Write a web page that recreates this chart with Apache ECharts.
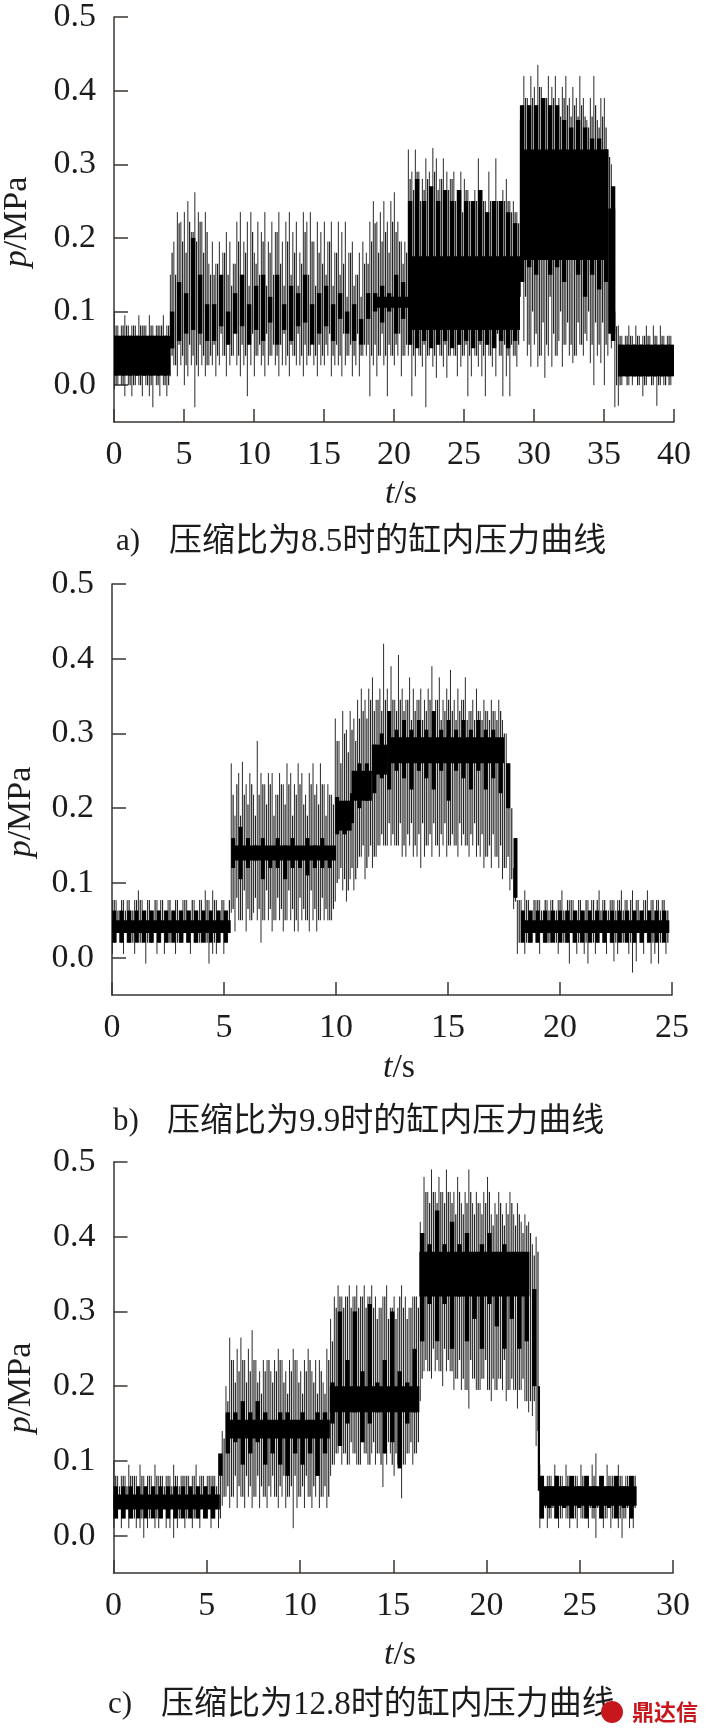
<!DOCTYPE html>
<html><head><meta charset="utf-8">
<style>html,body{margin:0;padding:0;background:#fff}#c{width:706px;height:1734px}</style>
<script src="https://cdn.jsdelivr.net/npm/echarts@6/dist/echarts.min.js"></script>
</head><body><div id="c"></div>
<script>
const yTickValues=[0,0.1,0.2,0.3,0.4,0.5];
const captionA='压缩比为8.5时的缸内压力曲线';
const captionB='压缩比为9.9时的缸内压力曲线';
const captionC='压缩比为12.8时的缸内压力曲线';
const durationA=40, durationB=24.88, durationC=28.05;

// outer swing of the trace (peaks / troughs)
const hiA=[.10,.081,.081,.095,.081,.081,.081,.095,.081,.081,.095,.081,.081,.081,.095,.081,
.15,.195,.235,.222,.235,.25,.208,.262,.235,.222,.235,.165,
.195,.165,.195,.18,.208,.195,.165,.222,.235,.195,.222,.235,.18,.222,.208,.235,.195,.222,.208,.235,.195,.222,.235,.208,.222,.18,.235,.222,.235,.195,.222,.208,.222,.195,.222,.18,.222,.208,.222,.18,.195,.15,.18,.195,
.18,.222,.25,.222,.235,.25,.222,.25,.262,.222,.195,.195,
.32,.29,.32,.29,.28,.308,.29,.322,.308,.28,.308,.29,.28,.29,.265,.29,.28,.265,.25,.265,.308,.265,.25,.29,.25,.308,.25,.265,.28,.25,.25,.235,
.36,.42,.39,.42,.405,.435,.405,.39,.42,.405,.42,.39,.405,.42,.39,.405,.39,.42,.39,.36,.39,.42,.36,.39,.39,.32,
.30,.10,
.081,.067,.067,.081,.067,.081,.067,.067,.081,.067,.081,.067,.081,.067,.067,.067];
const loA=[-.005,0,0,-.015,0,-.015,0,0,-.015,0,-.015,-.03,0,-.015,0,-.015,
.012,.027,.012,.027,0,.012,.027,-.03,.012,.027,.012,.027,
.027,.012,.027,.04,.012,.027,.04,.027,.012,.027,-.015,.027,.012,.04,.027,.012,.027,.04,.027,.012,.027,.027,.012,.04,.027,.027,.012,.027,.04,.027,.012,.027,.027,.04,.012,.027,.027,.012,.027,.04,.012,.027,.012,.04,
.04,-.015,.027,.012,.04,.027,-.015,.04,.027,.04,.012,.04,
.04,-.015,.012,.04,.025,-.03,.04,.025,.01,.04,.025,.01,.04,.04,.012,.025,.04,-.015,.012,.04,.025,.012,-.015,.04,.025,.012,.04,-.015,.012,-.015,.04,.025,
.12,.06,.04,.025,.055,.025,.04,.01,.04,.025,.04,.06,.025,.055,.04,.03,.04,.055,.04,.06,.03,0,.04,.03,0,.04,
.05,-.03,
-.028,0,.012,0,0,.012,0,-.015,0,.012,0,-.028,0,0,.012,0];

const hiB=[.077,.077,.063,.077,.077,.063,.077,.09,.077,.063,.077,.063,.077,.077,.063,.077,.063,.077,.063,.077,.077,.063,.077,.063,.077,.09,.077,.09,.077,.063,.077,.063,
.26,.19,.247,.262,.232,.247,.218,.29,.247,.232,.247,.247,.218,.247,.232,.26,.247,.232,.26,.247,.218,.247,.26,.232,.26,.232,.232,.218,
.32,.29,.33,.305,.33,.32,
.345,.36,.345,.36,.375,.345,
.36,.42,.36,.39,.345,.405,.36,.345,.375,.36,.345,.36,.345,.36,.39,.345,.375,.345,.36,.385,.345,.36,.345,.375,.33,.345,.36,.33,.345,.33,.345,.33,.345,
.318,.3,.26,.12,
.077,.077,.09,.077,.063,.077,.077,.063,.077,.077,.063,.077,.09,.063,.077,.077,.063,.077,.063,.077,.077,.063,.09,.077,.063,.077,.077,.077,.09,.077,.063,.09,.077,.063,.077,.09,.077,.063,.077,.077,.063];
const loB=[.005,.02,.02,.005,.02,.02,.005,.02,.02,-.008,.02,.02,.005,.02,.005,.02,.02,.005,.02,.02,.02,.005,.02,.02,.02,.02,-.008,.005,.005,.02,.005,.02,
.06,.035,.05,.05,.035,.05,.06,.05,.02,.05,.05,.035,.05,.05,.035,.05,.05,.035,.035,.05,.05,.035,.05,.035,.05,.05,.05,.05,
.075,.105,.09,.075,.105,.09,
.12,.135,.105,.135,.12,.135,
.15,.15,.15,.15,.15,.15,.135,.135,.15,.135,.135,.12,.135,.15,.135,.15,.135,.15,.135,.15,.15,.135,.15,.15,.135,.15,.135,.135,.12,.135,.12,.135,.12,
.105,.12,.09,.065,
.005,.02,.005,.02,.02,.02,.005,.02,.02,.02,.02,.005,.02,.02,-.008,.02,.005,.02,.005,-.008,.02,.005,.02,.02,.005,.02,-.005,.005,.02,.02,.005,-.02,-.005,.02,.005,.02,-.008,.005,-.008,.02,.005];

const hiC=[.1,.08,.08,.08,.095,.08,.08,.095,.08,.08,.08,.095,.08,.08,.08,.08,.095,.08,.08,.08,.08,.08,.095,.08,.08,.08,.08,.08,.08,
.14,.2,.265,.235,.25,.265,.235,.25,.275,.235,.22,.235,.235,.22,.235,.25,.235,.22,.235,.25,.235,.22,.235,.25,.22,.235,.235,.205,.25,
.29,.32,.335,.32,.32,.335,.32,.335,.32,.335,.32,.335,.32,.305,.32,.335,.305,.32,.305,.335,.32,.305,.32,.32,
.42,.48,.46,.49,.46,.48,.46,.49,.46,.46,.48,.445,.46,.49,.445,.46,.445,.46,.48,.43,.445,.46,.43,.445,.46,.43,.445,.42,.43,.42,
.39,.4,
.095,.08,.08,.08,.095,.08,.08,.095,.08,.08,.08,.095,.08,.08,.095,.11,.08,.08,.095,.08,.08,.095,.08,.08,.08,.08];
const loC=[.01,.023,.01,.023,.01,.023,.01,.01,-.003,.01,.023,.01,.01,.023,.01,.01,-.003,.01,.023,.01,.023,.01,.023,.01,.023,.023,.01,.023,.01,
.04,.052,.037,.052,.037,.052,.037,.052,.037,.052,.037,.052,.037,.052,.052,.037,.052,.037,.052,.01,.037,.052,.037,.052,.037,.052,.037,.052,.037,
.08,.095,.11,.095,.11,.095,.11,.095,.095,.11,.095,.11,.095,.11,.065,.095,.11,.08,.095,.05,.095,.11,.095,.11,
.18,.22,.22,.21,.22,.22,.2,.22,.22,.195,.21,.195,.195,.17,.21,.195,.195,.21,.195,.18,.195,.21,.195,.18,.195,.195,.17,.195,.18,.165,
.16,.12,
.01,.023,.01,.023,.023,.01,.023,.023,.01,.023,.01,.023,.023,.01,.023,-.003,.023,.01,.023,.01,.023,.01,-.003,.023,.01,.01];

// middle swing of the trace (the grey body)
const midHiA=[.081,.067,.081,.081,.067,.081,.067,.081,.081,.067,.081,.067,.081,.081,.067,.081,
.18,.15,.22,.195,.18,.222,.208,.195,.222,.18,.208,.15,
.15,.165,.12,.18,.15,.135,.165,.195,.15,.18,.135,.208,.165,.15,.195,.135,.18,.15,.208,.165,.135,.195,.15,.18,.135,.165,.208,.15,.195,.135,.18,.165,.15,.195,.135,.18,.15,.165,.12,.18,.135,.15,.12,.165,
.165,.195,.22,.18,.195,.208,.18,.222,.208,.195,.165,.18,
.28,.265,.29,.25,.265,.28,.25,.29,.265,.28,.25,.265,.28,.25,.265,.235,.265,.25,.235,.25,.265,.25,.235,.25,.25,.25,.235,.25,.25,.235,.235,.22,
.38,.39,.38,.39,.38,.405,.38,.39,.38,.39,.38,.365,.39,.38,.365,.38,.365,.38,.365,.35,.365,.38,.35,.365,.35,.31,
.25,.08,
.067,.055,.067,.067,.055,.067,.055,.067,.067,.055,.067,.055,.067,.055,.067,.055];
const midLoA=[0,.013,0,.013,0,0,.013,0,.013,0,0,.013,0,.013,0,0,
.04,.027,.055,.04,.027,.055,.04,.027,.055,.04,.027,.04,
.055,.04,.07,.04,.055,.04,.07,.04,.055,.04,.055,.07,.04,.055,.04,.07,.04,.055,.04,.055,.07,.04,.055,.04,.07,.04,.055,.04,.07,.04,.055,.04,.055,.07,.04,.055,.04,.07,.04,.055,.04,.07,.04,.055,
.055,.04,.055,.04,.07,.04,.055,.04,.055,.07,.04,.055,
.055,.04,.055,.04,.055,.04,.07,.04,.055,.04,.055,.04,.07,.04,.055,.04,.055,.04,.07,.04,.055,.04,.055,.04,.055,.07,.04,.055,.04,.055,.04,.055,
.15,.12,.055,.1,.07,.04,.085,.055,.12,.07,.04,.1,.055,.085,.055,.04,.085,.055,.07,.1,.055,.085,.055,.085,.055,.07,
.06,0,
0,.012,0,.012,.012,0,.012,0,.012,0,.012,0,.012,0,0,.012];

const midHiB=[.077,.063,.077,.063,.077,.063,.077,.077,.063,.077,.063,.077,.063,.077,.063,.077,.063,.077,.063,.077,.063,.077,.063,.077,.063,.077,.063,.077,.063,.077,.063,.077,
.218,.232,.19,.218,.205,.232,.19,.218,.232,.205,.232,.19,.218,.232,.205,.232,.19,.218,.232,.205,.19,.232,.218,.205,.232,.19,.218,.205,
.29,.26,.3,.275,.305,.29,
.32,.33,.32,.345,.33,.345,
.33,.345,.33,.345,.33,.345,.33,.345,.318,.33,.345,.318,.33,.345,.33,.345,.318,.33,.345,.33,.318,.33,.345,.318,.33,.318,.33,.318,.33,.318,.33,.318,.33,
.3,.26,.2,.1,
.077,.063,.077,.063,.077,.077,.063,.077,.063,.077,.063,.077,.063,.077,.077,.063,.077,.063,.077,.063,.077,.077,.063,.077,.063,.077,.063,.077,.063,.077,.077,.063,.077,.063,.077,.063,.077,.077,.063,.077,.063];
const midLoB=[.02,.035,.02,.035,.02,.02,.035,.02,.035,.02,.02,.035,.02,.035,.02,.02,.035,.02,.02,.035,.02,.035,.02,.02,.035,.02,.035,.02,.02,.035,.02,.035,
.065,.08,.05,.09,.065,.05,.08,.065,.05,.09,.065,.05,.08,.065,.05,.09,.065,.05,.08,.065,.05,.09,.065,.05,.08,.065,.05,.065,
.1,.12,.105,.09,.12,.105,
.135,.15,.12,.15,.135,.15,
.165,.15,.18,.165,.15,.18,.15,.165,.18,.15,.165,.18,.15,.165,.18,.15,.165,.18,.15,.165,.15,.18,.165,.15,.165,.18,.15,.165,.135,.15,.165,.135,.15,
.12,.135,.105,.075,
.02,.035,.02,.02,.035,.02,.035,.02,.02,.035,.02,.035,.02,.02,.035,.02,.02,.035,.02,.035,.02,.02,.035,.02,.035,.02,.02,.035,.02,.035,.02,.02,.035,.02,.035,.02,.02,.035,.02,.035,.02];

const midHiC=[.08,.066,.08,.066,.08,.08,.066,.08,.066,.08,.066,.08,.08,.066,.08,.066,.08,.066,.08,.08,.066,.08,.066,.08,.066,.08,.08,.066,.08,
.13,.18,.235,.205,.22,.235,.205,.22,.235,.205,.19,.22,.235,.205,.22,.235,.205,.19,.22,.235,.205,.19,.22,.235,.205,.19,.22,.19,.235,
.26,.305,.32,.305,.32,.305,.32,.305,.32,.305,.32,.305,.29,.305,.32,.29,.305,.29,.32,.305,.29,.305,.32,.305,
.405,.46,.445,.46,.445,.46,.445,.46,.445,.43,.46,.43,.445,.46,.43,.445,.43,.445,.46,.415,.43,.445,.415,.43,.445,.415,.43,.405,.415,.405,
.375,.38,
.08,.066,.08,.066,.08,.08,.066,.08,.066,.08,.066,.08,.08,.066,.08,.066,.08,.066,.08,.08,.066,.08,.066,.08,.066,.08];
const midLoC=[.023,.037,.023,.037,.023,.023,.037,.023,.037,.023,.037,.023,.023,.037,.023,.037,.023,.023,.037,.023,.037,.023,.023,.037,.023,.037,.023,.037,.023,
.052,.066,.052,.08,.066,.052,.08,.066,.052,.08,.066,.052,.066,.08,.052,.066,.08,.052,.066,.08,.052,.066,.08,.052,.066,.08,.052,.066,.052,
.095,.11,.125,.11,.095,.125,.11,.095,.125,.11,.095,.125,.11,.095,.11,.125,.095,.11,.125,.095,.11,.125,.11,.125,
.21,.235,.22,.25,.235,.22,.25,.235,.22,.21,.235,.21,.195,.235,.21,.195,.21,.235,.195,.21,.195,.21,.235,.195,.21,.195,.195,.21,.18,.18,
.18,.14,
.023,.037,.023,.037,.023,.023,.037,.023,.037,.023,.037,.023,.023,.037,.023,.037,.023,.023,.037,.023,.037,.023,.023,.037,.023,.037];

// inner swing of the trace (the black core)
const coreHiA=[.067,.067,.067,.067,.067,.067,.067,.067,
.10,.14,.125,.2,.15,.11,
.11,.15,.10,.125,.15,.11,.135,.15,.12,.15,.11,.135,.125,.15,.11,.125,.135,.11,.125,.10,.11,.09,
.125,.125,.135,.125,.15,.14,
.25,.28,.25,.27,.25,.265,.25,.265,.25,.25,.265,.235,.25,.25,.235,.22,
.38,.38,.38,.39,.38,.38,.36,.35,.36,.35,.335,.335,.32,
.27,
.055,.055,.055,.055,.055,.055,.055,.055];
const coreLoA=[.013,.013,.013,.013,.013,.013,.013,.013,
.05,.06,.07,.075,.07,.06,
.06,.08,.055,.07,.08,.055,.075,.06,.085,.055,.075,.06,.08,.085,.055,.07,.08,.06,.09,.07,.06,.055,
.09,.1,.085,.1,.07,.09,
.055,.05,.06,.05,.055,.06,.05,.055,.06,.05,.06,.055,.05,.06,.05,.06,
.14,.16,.15,.17,.15,.16,.14,.17,.15,.12,.15,.13,.14,
.06,
.012,.012,.012,.012,.012,.012,.012,.012];

const coreHiB=[.063,.063,.063,.063,.063,.063,.063,.063,.063,.063,.063,.063,.063,.063,.063,.063,
.16,.175,.16,.15,.16,.145,.16,.15,.16,.145,.16,.15,.16,.14,
.215,.2,.22,
.26,.26,.285,
.3,.33,.305,.318,.305,.318,.305,.33,.305,.318,.305,.318,.305,.318,.305,.305,.29,
.26,.16,
.063,.063,.063,.063,.063,.063,.063,.063,.063,.063,.063,.063,.063,.063,.063,.063,.063,.063,.063,.063];
const coreLoB=[.02,.02,.02,.02,.02,.02,.02,.02,.02,.02,.02,.02,.02,.02,.02,.02,
.12,.105,.12,.13,.105,.12,.12,.105,.12,.12,.11,.12,.12,.12,
.165,.165,.18,
.2,.21,.22,
.24,.225,.25,.24,.225,.25,.24,.225,.25,.21,.25,.24,.225,.25,.225,.24,.22,
.2,.08,
.02,.02,.02,.02,.02,.02,.02,.02,.02,.02,.02,.02,.02,.02,.02,.02,.02,.02,.02,.02];

const coreHiC=[.066,.066,.066,.066,.066,.066,.066,.066,.066,.066,.066,.066,.066,.066,
.11,.165,.165,.18,.165,.18,.165,.15,.165,.165,.15,.165,.15,.165,.165,
.205,.3,.235,.3,.22,.31,.205,.235,.3,.22,.205,.25,
.405,.39,.435,.39,.42,.39,.405,.375,.39,.405,.375,.39,.36,.375,.36,
.33,
.08,.066,.08,.066,.08,.066,.08,.066,.08,.066,.08,.066,.08];
const coreLoC=[.023,.023,.023,.023,.023,.023,.023,.023,.023,.023,.023,.023,.023,.023,
.08,.11,.125,.095,.11,.125,.095,.11,.095,.08,.11,.095,.11,.08,.11,
.15,.12,.15,.165,.125,.15,.165,.11,.125,.09,.15,.165,
.26,.31,.26,.31,.25,.32,.26,.29,.25,.31,.28,.25,.29,.25,.26,
.2,
.023,.037,.023,.037,.023,.037,.023,.037,.023,.037,.023,.037,.023];

// solid black blocks: [tStart, tEnd, low, high]
const blockA=[[0,4,.013,.067],[18.5,21,.105,.12],[21,29,.075,.175],[29,35.3,.17,.32],[35.3,35.8,.07,.24],[36,40,.012,.055]];
const blockB=[[0,5.3,.033,.05],[5.4,10,.13,.15],[10,10.7,.17,.21],[10.7,11.6,.21,.25],[11.6,12.3,.245,.285],[12.3,17.5,.26,.295],[18.3,24.88,.033,.05]];
const blockC=[[0,5.7,.035,.055],[6.2,11.6,.13,.155],[11.6,16.4,.165,.2],[16.4,22.3,.32,.38],[22.75,22.87,.06,.2],[22.87,28.05,.04,.066]];

const serif='"Liberation Serif","Noto Sans CJK SC",serif';
const ink='#1c1c1c', axisInk='#3a3633';

function strokes(hi,lo,duration,shift){
  const dt=duration/hi.length;
  return hi.map((h,i)=>[(i+shift)*dt,lo[i],h]);
}
function strokeSeries(idx,data,color,width,z){
  return {type:'custom',xAxisIndex:idx,yAxisIndex:idx,z,silent:true,animation:false,clip:true,
    encode:{x:0,y:[1,2]},data,
    renderItem(params,api){
      const a=api.coord([api.value(0),api.value(2)]), b=api.coord([api.value(0),api.value(1)]);
      return {type:'line',shape:{x1:a[0],y1:a[1],x2:b[0],y2:b[1]},style:{stroke:color,lineWidth:width,fill:null}};
    }};
}
function blockSeries(idx,bands){
  return {type:'custom',xAxisIndex:idx,yAxisIndex:idx,z:5,silent:true,animation:false,
    encode:{x:[0,1],y:[2,3]},data:bands,clip:true,
    renderItem(params,api){
      const a=api.coord([api.value(0),api.value(3)]), b=api.coord([api.value(1),api.value(2)]);
      return {type:'rect',shape:{x:a[0],y:a[1],width:b[0]-a[0],height:b[1]-a[1]},style:{fill:'#000'}};
    }};
}
const panels=[
 {left:114,right:32,top:10.5,bottom:1734-422,xMax:40,hi:hiA,lo:loA,mh:midHiA,ml:midLoA,ch:coreHiA,cl:coreLoA,d:durationA,block:blockA,coreWidth:4.4},
 {left:112,right:34,top:584,bottom:1734-995,xMax:25,hi:hiB,lo:loB,mh:midHiB,ml:midLoB,ch:coreHiB,cl:coreLoB,d:durationB,block:blockB,coreWidth:4},
 {left:113.5,right:33,top:1162,bottom:1734-1573,xMax:30,hi:hiC,lo:loC,mh:midHiC,ml:midLoC,ch:coreHiC,cl:coreLoC,d:durationC,block:blockC,coreWidth:4.4}
];
const labelStyle={fontFamily:serif,fontSize:34,color:ink};
const option={animation:false,backgroundColor:'#fff',
 grid:panels.map(p=>({left:p.left,right:p.right,top:p.top,bottom:p.bottom})),
 xAxis:panels.map((p,i)=>({type:'value',gridIndex:i,min:0,max:p.xMax,interval:5,
   axisLine:{show:true,onZero:false,lineStyle:{color:axisInk,width:1.5}},
   axisTick:{show:true,inside:true,length:13,lineStyle:{color:axisInk,width:1.5}},
   axisLabel:{...labelStyle,margin:16,hideOverlap:false,showMinLabel:true,showMaxLabel:true},
   splitLine:{show:false}})),
 yAxis:panels.map((p,i)=>({type:'value',gridIndex:i,min:-.05,max:.5,
   axisLine:{show:true,onZero:false,lineStyle:{color:axisInk,width:1.5}},
   axisTick:{show:true,inside:true,length:14,customValues:yTickValues,lineStyle:{color:axisInk,width:1.5}},
   axisLabel:{...labelStyle,margin:18,customValues:yTickValues,formatter:v=>v.toFixed(1)},
   splitLine:{show:false}})),
 series:panels.flatMap((p,i)=>[
   strokeSeries(i,strokes(p.hi,p.lo,p.d,.1),'#2a2a2a',1,2),
   strokeSeries(i,strokes(p.mh,p.ml,p.d,.6),'#222',1.2,3),
   strokeSeries(i,strokes(p.ch,p.cl,p.d,.3),'#000',p.coreWidth,4),
   blockSeries(i,p.block)]),
 graphic:[]
};
const nameRich={i:{fontFamily:serif,fontStyle:'italic',fontSize:34,fill:ink}};
function tName(x,y){return {type:'text',x,y,style:{text:'{i|t}/s',rich:nameRich,font:'34px "Liberation Serif"',fill:ink,align:'center',verticalAlign:'middle'}};}
function pName(x,y){return {type:'text',x,y,rotation:Math.PI/2,style:{text:'{i|p}/MPa',rich:nameRich,font:'34px "Liberation Serif"',fill:ink,align:'center',verticalAlign:'middle'}};}
function caption(x,y,tag,gap,txt){return [
  {type:'text',x,y,style:{text:tag,font:'31px "Liberation Serif"',fill:ink,align:'left',verticalAlign:'middle'}},
  {type:'text',x:x+gap,y,style:{text:txt,font:'33px "Liberation Serif","Noto Sans CJK SC"',fill:ink,align:'left',verticalAlign:'middle'}}
];}
option.graphic=[
 pName(17,222),tName(401,494),...caption(116,542,'a)',53,captionA),
 pName(21,812),tName(399,1068),...caption(113,1122,'b)',54,captionB),
 pName(21,1388),tName(400,1655),...caption(108,1705,'c)',53,captionC),
 {type:'circle',shape:{cx:612,cy:1712,r:11},style:{fill:'#c8161d'}},
 {type:'text',x:632,y:1712,style:{text:'鼎达信',font:'bold 22px "Noto Sans CJK SC"',fill:'#c8161d',align:'left',verticalAlign:'middle'}}
];
echarts.init(document.getElementById('c'),null,{renderer:'canvas'}).setOption(option);
</script></body></html>
